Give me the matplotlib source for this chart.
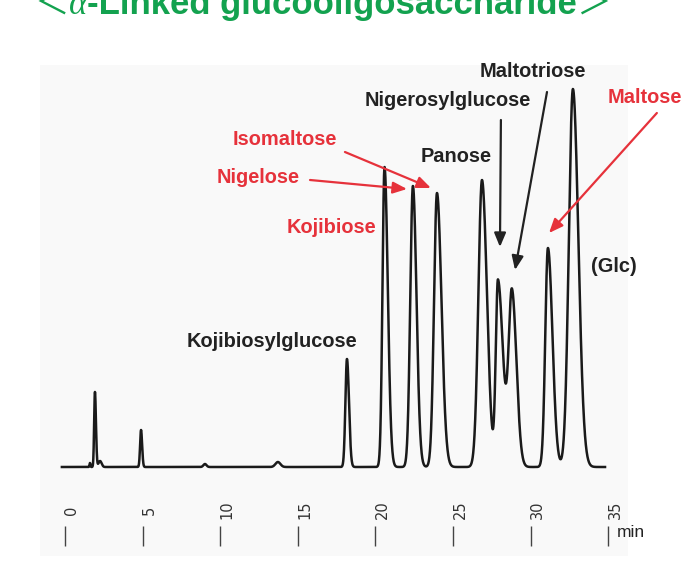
import numpy as np
import matplotlib
matplotlib.use("Agg")
import matplotlib.pyplot as plt

# peak table (retention time in min, height in arbitrary units,
# left / right half widths in min -> peaks tail a bit)
peak_time = [1.61, 1.93, 2.26, 4.90, 9.02, 13.72, 18.17, 20.59, 22.42, 23.97, 26.87, 27.90, 28.80, 31.12, 32.73]
peak_height = [4, 75, 6, 37, 3, 5, 108, 300, 281, 274, 287, 186, 175, 219, 378]
peak_wl = [0.03, 0.05, 0.10, 0.06, 0.10, 0.16, 0.10, 0.13, 0.17, 0.19, 0.23, 0.14, 0.21, 0.17, 0.26]
peak_wr = [0.03, 0.065, 0.10, 0.07, 0.10, 0.16, 0.13, 0.21, 0.23, 0.29, 0.32, 0.32, 0.29, 0.29, 0.35]
run_start, run_end = -0.2, 34.8

tick_min = [0, 5, 10, 15, 20, 25, 30, 35]

# labels: text, colour, (x, y) of label, arrow tail, arrow tip (None = no arrow)
BLACK = "#222222"
RED = "#e6323b"
GREEN = "#13a24f"
labels = [
    ("Kojibiosylglucose", BLACK, (13.34, 120), None, None),
    ("Kojibiose", RED, (17.14, 234), None, None),
    ("Nigelose", RED, (12.44, 284), (15.79, 287), (22.04, 278)),
    ("Isomaltose", RED, (14.14, 322), (18.04, 315), (23.58, 279)),
    ("Panose", BLACK, (25.19, 305), None, None),
    ("Nigerosylglucose", BLACK, (24.68, 361), (28.09, 347), (28.03, 220)),
    ("Maltotriose", BLACK, (30.15, 390), (31.06, 375), (29.00, 197)),
    ("Maltose", RED, (37.37, 364), (38.14, 354), (31.19, 234)),
    ("(Glc)", BLACK, (35.37, 195), None, None),
]

W, H = 697, 561
fig = plt.figure(figsize=(W / 100, H / 100), dpi=100)
fig.patch.set_facecolor("white")

# light grey panel of the scanned chromatogram
ax = fig.add_axes([40 / W, (H - 556) / H, (628 - 40) / W, (556 - 65) / H])
ax.set_facecolor("#f9f9f9")
for s in ax.spines.values():
    s.set_visible(False)
ax.set_xticks([])
ax.set_yticks([])
ax.set_xlim(-1.61, 36.28)
ax.set_ylim(-89, 402)

# trace
t = np.linspace(run_start, run_end, 6000)
y = np.zeros_like(t)
for t0, h, wl, wr in zip(peak_time, peak_height, peak_wl, peak_wr):
    w = np.where(t < t0, wl, wr)
    y += h * np.exp(-0.5 * ((t - t0) / w) ** 2)
ax.plot(t, y, color="#1a1a1a", lw=1.8, solid_joinstyle="round")

# time scale under the trace
ax.vlines(tick_min, -79, -59, color="#444444", lw=1.0)
for m in tick_min:
    ax.text(m + 0.45, -43, str(m), rotation=90, ha="center", va="center",
            fontsize=10.5, color="#333333", family="DejaVu Sans")
ax.text(35.57, -70, "min", ha="left", va="baseline", fontsize=12.5,
        color=BLACK, family="Liberation Sans")

# peak names and arrows
for name, col, pos, tail, tip in labels:
    ax.text(pos[0], pos[1], name, ha="center", va="baseline", fontsize=14.4,
            fontweight="bold", color=col, family="Liberation Sans")
    if tip is not None:
        ax.annotate("", xy=tip, xytext=tail,
                    arrowprops=dict(arrowstyle="-|>,head_length=0.6,head_width=0.25",
                                    color=col, lw=1.6, mutation_scale=14,
                                    shrinkA=0, shrinkB=0))

# title (cut off at the top of the slide), built from pieces
renderer = fig.canvas.get_renderer()
pieces = [
    ("\uFF1C", dict(family="Noto Sans CJK JP")),
    ("\u03B1", dict(family="Liberation Serif", style="italic")),
    ("-Linked glucooligosaccharide", dict(family="Liberation Sans", fontweight="bold")),
    ("\uFF1E", dict(family="Noto Sans CJK JP")),
]
x = 34 / W
for s, props in pieces:
    txt = fig.text(x, 1 - 14 / H, s, ha="left", va="baseline", fontsize=25,
                   color=GREEN, **props)
    x += txt.get_window_extent(renderer).width / W

fig.savefig("out.png", dpi=100)
